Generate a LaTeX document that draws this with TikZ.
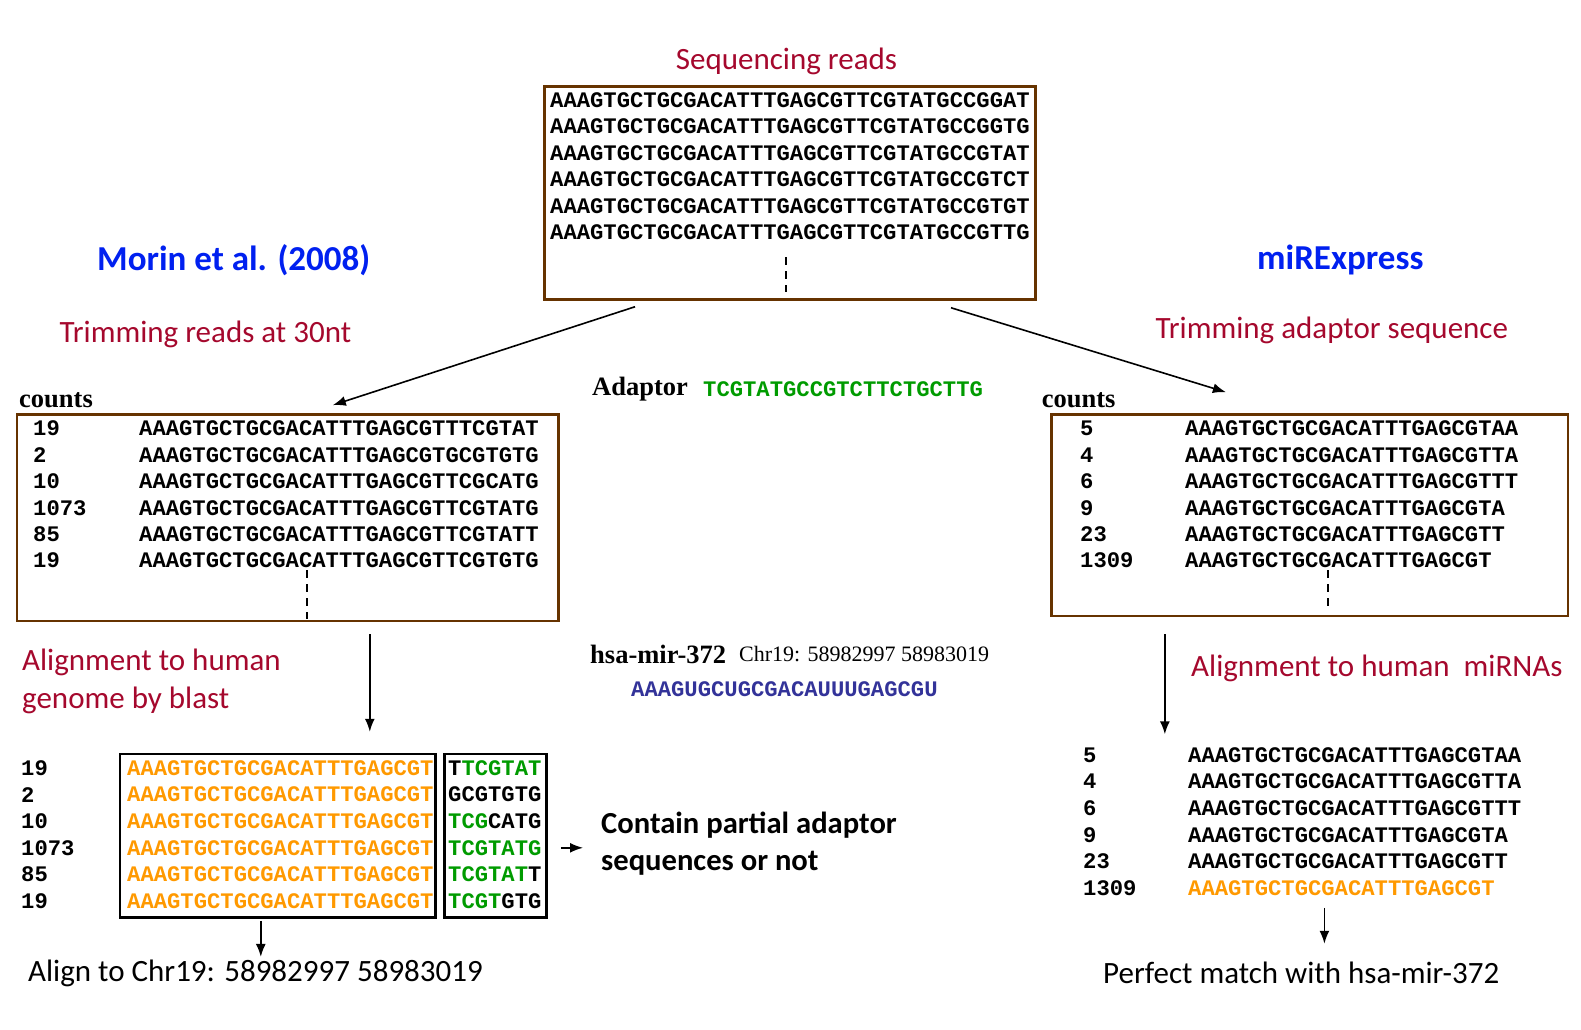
\documentclass[tikz,border=0pt]{standalone}
\usepackage{fontspec}
\setmainfont{Carlito}
\newfontfamily\seqfont{Liberation Mono}
\newfontfamily\tmsfont{Liberation Serif}
\usetikzlibrary{arrows.meta,fit}
\definecolor{boxbrown}{RGB}{102,51,0}
\definecolor{labred}{RGB}{165,8,45}
\definecolor{headblue}{RGB}{0,32,240}
\definecolor{seqgreen}{RGB}{0,155,0}
\definecolor{seqorange}{RGB}{255,153,0}
\definecolor{rnablue}{RGB}{51,51,153}
\newcommand\gseq[1]{\textcolor{seqgreen}{#1}}

\begin{document}
\begin{tikzpicture}[x=1pt,y=-1pt,>={Latex[length=13pt,width=10pt]},
  seq/.style={anchor=west,inner sep=0,font=\seqfont\bfseries\fontsize{22.2}{26}\selectfont},
  lab/.style={anchor=west,inner sep=0,text=labred,align=left,font=\fontsize{31}{38}\selectfont},
  txt/.style={anchor=west,inner sep=0,align=left,font=\fontsize{31}{37}\selectfont},
  head/.style={anchor=west,inner sep=0,text=headblue,font=\bfseries\fontsize{35}{42}\selectfont},
  tms/.style={anchor=west,inner sep=0,font=\tmsfont\bfseries\fontsize{26.5}{30}\selectfont},
  frame/.style={draw=boxbrown,line width=2.5pt,inner sep=0},
  blk/.style={draw,line width=2.5pt,inner sep=0},
  arr/.style={->,line width=1.6pt},
  dots/.style={line width=2pt,dash pattern=on 8pt off 6pt}]
\useasboundingbox (0,0) rectangle (1581,1029);
% raw reads
\node[lab,anchor=center] (title) at (786.5,61) {Sequencing reads};
\node[frame,fit={(544.5,86.7) (1035.5,299.5)}] (reads) {};
\foreach \t [count=\i] in {AAAGTGCTGCGACATTTGAGCGTTCGTATGCCGGAT,AAAGTGCTGCGACATTTGAGCGTTCGTATGCCGGTG,AAAGTGCTGCGACATTTGAGCGTTCGTATGCCGTAT,AAAGTGCTGCGACATTTGAGCGTTCGTATGCCGTCT,AAAGTGCTGCGACATTTGAGCGTTCGTATGCCGTGT,AAAGTGCTGCGACATTTGAGCGTTCGTATGCCGTTG}
  \node[seq] (rd\i) at (550,{100+26.5*(\i-1)}) {\t};
\draw[dots] (786,257) -- (786,292);
\node[head] (morin) at (97,260) {Morin et al. (2008)};
\node[head] (mirx) at (1257,260) {miRExpress};
\node[lab] (trim30) at (59.5,334) {Trimming reads at 30nt};
\node[lab] (trimad) at (1155.5,330) {Trimming adaptor sequence};
% adaptor and mirna
\node[tms] (adlab) at (592,389) {Adaptor}; \node[seq,text=seqgreen] (adseq) at (703,389) {TCGTATGCCGTCTTCTGCTTG};
\node[tms] (mir) at (590,654) {hsa-mir-372}; \node[anchor=west,inner sep=0,font=\tmsfont\fontsize{22}{26}\selectfont] (chr) at (739,654) {Chr19: 58982997 58983019};
\node[seq,text=rnablue] (rna) at (631,689) {AAAGUGCUGCGACAUUUGAGCGU};
% left: trimmed at 30nt
\node[tms] (lcnt) at (19,400) {counts};
\node[frame,fit={(17,414.4) (558.6,621)}] (lbox) {};
\foreach \c/\t [count=\i] in {19/AAAGTGCTGCGACATTTGAGCGTTTCGTAT,2/AAAGTGCTGCGACATTTGAGCGTGCGTGTG,10/AAAGTGCTGCGACATTTGAGCGTTCGCATG,1073/AAAGTGCTGCGACATTTGAGCGTTCGTATG,85/AAAGTGCTGCGACATTTGAGCGTTCGTATT,19/AAAGTGCTGCGACATTTGAGCGTTCGTGTG}
  {\node[seq] (lc\i) at (33,{428.5+26.4*(\i-1)}) {\c}; \node[seq] (ls\i) at (139,{428.5+26.4*(\i-1)}) {\t};}
\draw[dots] (306.5,570) -- (306.5,619);
% right: adaptor trimmed
\node[tms] (rcnt) at (1041.6,400) {counts};
\node[frame,fit={(1051.7,414.4) (1568,616)}] (rbox) {};
\foreach \c/\t [count=\i] in {5/AAAGTGCTGCGACATTTGAGCGTAA,4/AAAGTGCTGCGACATTTGAGCGTTA,6/AAAGTGCTGCGACATTTGAGCGTTT,9/AAAGTGCTGCGACATTTGAGCGTA,23/AAAGTGCTGCGACATTTGAGCGTT,1309/AAAGTGCTGCGACATTTGAGCGT}
  {\node[seq] (rc\i) at (1080,{428.5+26.4*(\i-1)}) {\c}; \node[seq] (rs\i) at (1185,{428.5+26.4*(\i-1)}) {\t};}
\draw[dots] (1328,570) -- (1328,608);
\draw[arr] ([xshift=-155pt,yshift=-6pt]reads.south) -- ([xshift=45pt,yshift=8pt]lbox.north);
\draw[arr] ([xshift=161pt,yshift=-7pt]reads.south) -- ([xshift=-84pt,yshift=21pt]rbox.north);
% alignment, left
\node[lab] (blast) at (22,681) {Alignment to human\\genome by blast};
\node[blk,fit={(120,754) (435.6,917.6)}] (obox) {};
\node[blk,fit={(444.7,754) (546.5,917.6)}] (gbox) {};
\foreach \c/\t [count=\i] in {19/{T\gseq{TCGTAT}},2/GCGTGTG,10/{\gseq{TCG}CATG},1073/{\gseq{TCGTATG}},85/{\gseq{TCGTAT}T},19/{\gseq{TCGT}GTG}}
  {\node[seq] (bc\i) at (21,{768+26.6*(\i-1)}) {\c}; \node[seq,text=seqorange] (bo\i) at (127,{768+26.6*(\i-1)}) {AAAGTGCTGCGACATTTGAGCGT}; \node[seq] (bs\i) at (448,{768+26.6*(\i-1)}) {\t};}
\node[txt,font=\bfseries\fontsize{30.6}{37}\selectfont] (partial) at (601,843.5) {Contain partial adaptor\\sequences or not};
\node[txt] (chrhit) at (28,973) {Align to Chr19: 58982997 58983019};
\draw[arr,shorten <=13pt,shorten >=18pt] (gbox.east |- bs4) -- (partial.west |- bs4);
\draw[arr] ([xshift=82pt,yshift=-12pt]lbox.south) -- ([xshift=92pt,yshift=21pt]obox.north);
\draw[arr] ([xshift=-17pt,yshift=-2pt]obox.south) -- ([xshift=-17pt,yshift=-38pt]obox.south);
% alignment, right
\node[lab] (mirna) at (1191,668) {Alignment to human\ \ miRNAs};
\foreach \c/\t/\k [count=\i] in {5/AAAGTGCTGCGACATTTGAGCGTAA/black,4/AAAGTGCTGCGACATTTGAGCGTTA/black,6/AAAGTGCTGCGACATTTGAGCGTTT/black,9/AAAGTGCTGCGACATTTGAGCGTA/black,23/AAAGTGCTGCGACATTTGAGCGTT/black,1309/AAAGTGCTGCGACATTTGAGCGT/seqorange}
  {\node[seq] (mc\i) at (1083,{755+26.6*(\i-1)}) {\c}; \node[seq,text=\k] (ms\i) at (1188,{755+26.6*(\i-1)}) {\t};}
\node[txt] (perfect) at (1103,973) {Perfect match with hsa-mir-372};
\draw[arr] ([xshift=-145pt,yshift=-17pt]rbox.south) -- ([xshift=-145pt,yshift=-117pt]rbox.south);
\draw[arr] ([xshift=-17pt,yshift=-12pt]ms6.south) -- ([xshift=-17pt,yshift=-48pt]ms6.south);
\end{tikzpicture}
\end{document}
